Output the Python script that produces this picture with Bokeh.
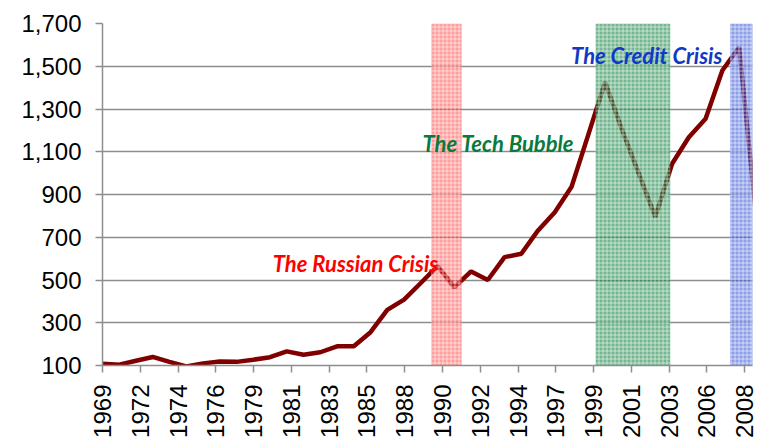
import math
from bokeh.plotting import figure
from bokeh.models import Range1d, FixedTicker, NumeralTickFormatter, CustomJSTickFormatter
from bokeh.core.properties import value
from bokeh.embed import file_html
from bokeh.resources import INLINE

# ---- data ----
years = list(range(1969, 2009))
index_values = [108, 104, 122, 140, 117, 96, 110, 119, 117, 127,
                139, 166, 150, 162, 190, 190, 256, 360, 408, 486,
                565, 466, 540, 500, 607, 623, 732, 817, 936, 1180,
                1425, 1205, 1000, 795, 1044, 1168, 1254, 1480, 1589, 815]

tick_labels = ["1969", "1972", "1974", "1976", "1979", "1981", "1983", "1985", "1988",
               "1990", "1992", "1994", "1997", "1999", "2001", "2003", "2006", "2008"]
y_ticks = [100, 300, 500, 700, 900, 1100, 1300, 1500, 1700]

band_names = ["The Russian Crisis", "The Tech Bubble", "The Credit Crisis"]
band_start = [1988.63, 1998.44, 2006.46]
band_end = [1990.44, 2002.89, 2010.0]
band_colors = ["#ff3b3b", "#1f8a4c", "#3a5ad8"]
band_alpha = [0.5, 0.62, 0.58]

label_colors = ["#ff0000", "#0a7a3c", "#1238c8"]
label_year = [1979.16, 1988.1, 1996.97]
label_value = [577, 1137, 1550]

# ---- layout parameters ----
x0 = years[0]
tick_step = 2.2552          # points per axis label
x_end = 38.8

xs = [y - x0 for y in years]

p = figure(width=759, height=440, frame_width=650, frame_height=342,
           x_range=Range1d(0, x_end), y_range=Range1d(100, 1700),
           output_backend="svg", toolbar_location=None,
           min_border_left=102, min_border_top=23, min_border_right=7, min_border_bottom=0)
p.outline_line_color = None
p.background_fill_color = "white"
p.border_fill_color = "white"

# grid
p.xgrid.visible = False
p.ygrid.ticker = FixedTicker(ticks=y_ticks)
p.ygrid.grid_line_color = "#8e8e8e"
p.ygrid.grid_line_width = 1.5

# y axis
p.yaxis.ticker = FixedTicker(ticks=y_ticks)
p.yaxis.formatter = NumeralTickFormatter(format="0,0")
p.yaxis.axis_line_color = "#8e8e8e"
p.yaxis.axis_line_width = 1.5
p.yaxis.major_tick_line_color = "#8e8e8e"
p.yaxis.major_tick_line_width = 1.5
p.yaxis.major_tick_out = 7
p.yaxis.major_tick_in = 0
p.yaxis.minor_tick_line_color = None
p.yaxis.major_label_text_font = "Liberation Sans"
p.yaxis.major_label_text_font_size = "24px"
p.yaxis.major_label_text_color = "black"
p.yaxis.major_label_standoff = 14

# x axis
p.xaxis.ticker = FixedTicker(ticks=[k * tick_step for k in range(len(tick_labels))])
p.xaxis.formatter = CustomJSTickFormatter(args=dict(labels=tick_labels, step=tick_step),
                                          code="return labels[Math.round(tick/step)] || '';")
p.xaxis.axis_line_color = "#8e8e8e"
p.xaxis.axis_line_width = 1.5
p.xaxis.major_tick_line_color = "#8e8e8e"
p.xaxis.major_tick_line_width = 1.5
p.xaxis.major_tick_out = 7
p.xaxis.major_tick_in = 0
p.xaxis.minor_tick_line_color = None
p.xaxis.major_label_orientation = math.pi / 2
p.xaxis.major_label_text_font = "Liberation Sans"
p.xaxis.major_label_text_font_size = "24px"
p.xaxis.major_label_text_color = "black"
p.xaxis.major_label_standoff = 12

# line
p.line(xs, index_values, line_color="#800000", line_width=4.5)

# bands (drawn over the line, translucent)
for s, e, c, a in zip(band_start, band_end, band_colors, band_alpha):
    p.quad(left=s - x0, right=e - x0, bottom=100, top=1700,
           fill_color=c, fill_alpha=a, line_color=None,
           hatch_pattern="+", hatch_color="white", hatch_alpha=0.55,
           hatch_scale=4, hatch_weight=1)

# labels
p.text(x=[ly - x0 for ly in label_year], y=label_value, text=band_names,
       text_color=label_colors, text_font=value("Lato"), text_font_style="bold italic",
       text_font_size="22px", text_align="left", text_baseline="alphabetic")

open("out.html", "w").write(file_html(p, INLINE))
